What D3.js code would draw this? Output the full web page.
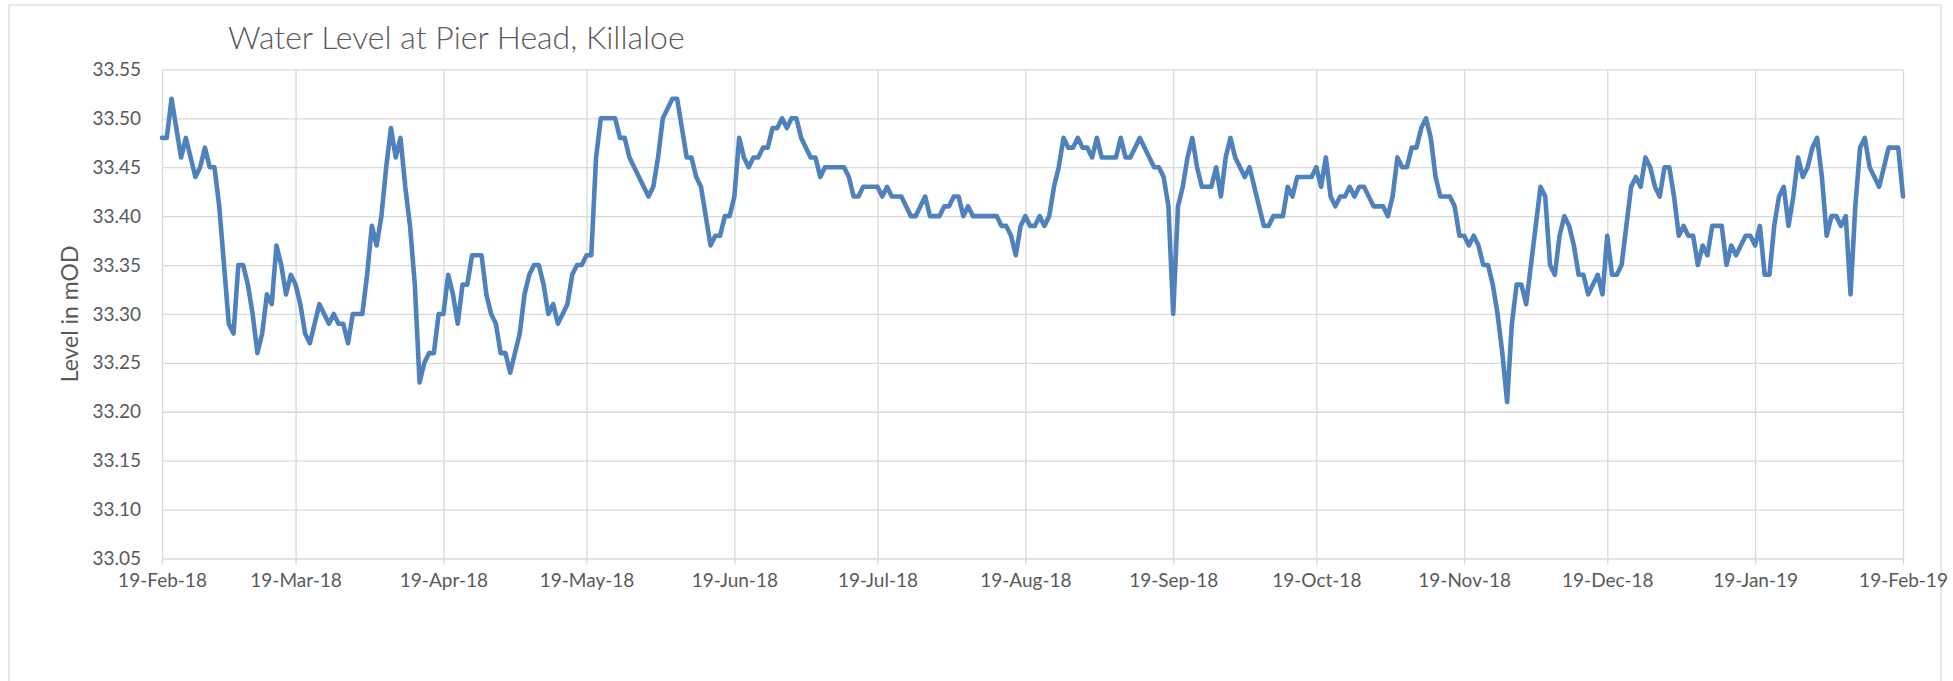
<!DOCTYPE html>
<html>
<head>
<meta charset="utf-8">
<title>Water Level at Pier Head, Killaloe</title>
<script src="https://cdn.jsdelivr.net/npm/d3@7"></script>
<style>
	body { margin: 0; background: #fff; }
	text { font-family: Lato, "Liberation Sans", sans-serif; fill: #595959; }
	.grid line { stroke: #d9d9d9; stroke-width: 1.3; }
	.grid .domain { display: none; }
	.axis .domain { display: none; }
	.axis line { stroke: #d9d9d9; stroke-width: 1.3; }
	.axis text { font-size: 19px; }
	.level-line { fill: none; stroke: #4f81bd; stroke-width: 4.6; stroke-linejoin: round; stroke-linecap: round; }
</style>
</head>
<body>
<svg id="water-level" width="1953" height="681"></svg>
<script>
"use strict";

// Daily readings (mOD) starting on this date. null = no reading that day, the line just joins across.
var startDate = "2018-02-19";
var levels = [
	33.48, 33.48, 33.52, 33.49, 33.46, 33.48, 33.46, 33.44, 33.45, 33.47, // 19 Feb
	33.45, 33.45, 33.41, 33.35, 33.29, 33.28, 33.35, 33.35, 33.33, 33.30,
	33.26, 33.28, 33.32, 33.31, 33.37, 33.35, 33.32, 33.34, 33.33, 33.31, // 19 Mar ish
	33.28, 33.27, 33.29, 33.31, 33.30, 33.29, 33.30, 33.29, 33.29, 33.27,
	33.30, 33.30, 33.30, 33.34, 33.39, 33.37, 33.40, 33.45, 33.49, 33.46,
	33.48, 33.43, 33.39, 33.33, 33.23, 33.25, 33.26, 33.26, 33.30, 33.30, // 19 Apr at the end
	33.34, 33.32, 33.29, 33.33, 33.33, 33.36, 33.36, 33.36, 33.32, 33.30,
	33.29, 33.26, 33.26, 33.24, 33.26, 33.28, 33.32, 33.34, 33.35, 33.35,
	33.33, 33.30, 33.31, 33.29, 33.30, 33.31, 33.34, 33.35, 33.35, 33.36, // 19 May at the end
	33.36, 33.46, 33.50, 33.50, 33.50, 33.50, 33.48, 33.48, 33.46, null,
	null, null, 33.42, 33.43, 33.46, 33.50, 33.51, 33.52, 33.52, 33.49,
	33.46, 33.46, 33.44, 33.43, 33.40, 33.37, 33.38, 33.38, 33.40, 33.40,
	33.42, 33.48, 33.46, 33.45, 33.46, 33.46, 33.47, 33.47, 33.49, 33.49, // 19 Jun first
	33.50, 33.49, 33.50, 33.50, 33.48, 33.47, 33.46, 33.46, 33.44, 33.45,
	33.45, 33.45, 33.45, 33.45, 33.44, 33.42, 33.42, 33.43, 33.43, 33.43,
	33.43, 33.42, 33.43, 33.42, 33.42, 33.42, 33.41, 33.40, 33.40, 33.41, // 19 Jul first
	33.42, 33.40, 33.40, 33.40, 33.41, 33.41, 33.42, 33.42, 33.40, 33.41,
	33.40, 33.40, 33.40, 33.40, 33.40, 33.40, 33.39, 33.39, 33.38, 33.36,
	33.39, 33.40, 33.39, 33.39, 33.40, 33.39, 33.40, 33.43, 33.45, 33.48, // 19 Aug second
	33.47, 33.47, 33.48, 33.47, 33.47, 33.46, 33.48, 33.46, 33.46, 33.46,
	33.46, 33.48, 33.46, 33.46, 33.47, 33.48, 33.47, 33.46, 33.45, 33.45,
	33.44, 33.41, 33.30, 33.41, 33.43, 33.46, 33.48, 33.45, 33.43, 33.43, // 19 Sep third
	33.43, 33.45, 33.42, 33.46, 33.48, 33.46, 33.45, 33.44, 33.45, 33.43,
	33.41, 33.39, 33.39, 33.40, 33.40, 33.40, 33.43, 33.42, 33.44, 33.44,
	33.44, 33.44, 33.45, 33.43, 33.46, 33.42, 33.41, 33.42, 33.42, 33.43, // 19 Oct third
	33.42, 33.43, 33.43, 33.42, 33.41, 33.41, 33.41, 33.40, 33.42, 33.46,
	33.45, 33.45, 33.47, 33.47, 33.49, 33.50, 33.48, 33.44, 33.42, 33.42,
	33.42, 33.41, 33.38, 33.38, 33.37, 33.38, 33.37, 33.35, 33.35, 33.33, // 19 Nov fourth
	33.30, 33.26, 33.21, 33.29, 33.33, 33.33, 33.31, 33.35, 33.39, 33.43,
	33.42, 33.35, 33.34, 33.38, 33.40, 33.39, 33.37, 33.34, 33.34, 33.32,
	33.33, 33.34, 33.32, 33.38, 33.34, 33.34, 33.35, 33.39, 33.43, 33.44, // 19 Dec fourth
	33.43, 33.46, 33.45, 33.43, 33.42, 33.45, 33.45, 33.42, 33.38, 33.39,
	33.38, 33.38, 33.35, 33.37, 33.36, 33.39, 33.39, 33.39, 33.35, 33.37,
	33.36, 33.37, 33.38, 33.38, 33.37, 33.39, 33.34, 33.34, 33.39, 33.42, // 19 Jan fifth
	33.43, 33.39, 33.42, 33.46, 33.44, 33.45, 33.47, 33.48, 33.44, 33.38,
	33.40, 33.40, 33.39, 33.40, 33.32, 33.41, 33.47, 33.48, 33.45, 33.44,
	33.43, 33.45, 33.47, 33.47, 33.47, 33.42 // 19 Feb 2019 last
];

var tickDates = [
	"2018-02-19", "2018-03-19", "2018-04-19", "2018-05-19", "2018-06-19", "2018-07-19", "2018-08-19",
	"2018-09-19", "2018-10-19", "2018-11-19", "2018-12-19", "2019-01-19", "2019-02-19"
];
var levelTicks = [33.05, 33.10, 33.15, 33.20, 33.25, 33.30, 33.35, 33.40, 33.45, 33.50, 33.55];

var chartTitle = "Water Level at Pier Head, Killaloe";
var yTitle = "Level in mOD";

var parseDate = d3.timeParse("%Y-%m-%d");
var formatTick = d3.timeFormat("%-d-%b-%y");

function drawChart() {
	var svg = d3.select("#water-level");
	var plot = {left: 162, right: 1903, top: 69.4, bottom: 558.5};

	var start = parseDate(startDate);
	var data = levels.map(function(v, i) {
		return {date: d3.timeDay.offset(start, i), level: v};
	}).filter(function(d) { return d.level !== null; });

	var ticks = tickDates.map(parseDate);

	var x = d3.scaleTime()
		.domain([ticks[0], ticks[ticks.length - 1]])
		.range([plot.left, plot.right]);
	var y = d3.scaleLinear()
		.domain([levelTicks[0], levelTicks[levelTicks.length - 1]])
		.range([plot.bottom, plot.top]);

	// Chart area border, bottom edge runs off the picture
	svg.append("rect")
		.attr("x", 9)
		.attr("y", 5)
		.attr("width", 1932)
		.attr("height", 720)
		.attr("fill", "#fff")
		.attr("stroke", "#d9d9d9")
		.attr("stroke-width", 1.3);

	// Vertical grid lines, one per month tick
	svg.append("g")
		.attr("class", "grid")
		.attr("transform", "translate(0," + plot.bottom + ")")
		.call(d3.axisBottom(x)
			.tickValues(ticks)
			.tickSize(-(plot.bottom - plot.top))
			.tickFormat(""));

	// Horizontal grid lines plus the level labels
	svg.append("g")
		.attr("class", "axis axis-y")
		.attr("transform", "translate(" + plot.left + ",0)")
		.call(d3.axisLeft(y)
			.tickValues(levelTicks)
			.tickSize(-(plot.right - plot.left))
			.tickPadding(21)
			.tickFormat(d3.format(".2f")));

	// Date labels with the short outside tick marks
	svg.append("g")
		.attr("class", "axis axis-x")
		.attr("transform", "translate(0," + plot.bottom + ")")
		.call(d3.axisBottom(x)
			.tickValues(ticks)
			.tickSize(6)
			.tickPadding(9)
			.tickFormat(formatTick));

	var levelLine = d3.line()
		.x(function(d) { return x(d.date); })
		.y(function(d) { return y(d.level); });

	svg.append("path")
		.datum(data)
		.attr("class", "level-line")
		.attr("d", levelLine);

	svg.append("text")
		.attr("x", 228)
		.attr("y", 49)
		.style("font-size", "32px")
		.style("font-weight", 300)
		.text(chartTitle);

	svg.append("text")
		.attr("transform", "translate(78," + ((plot.top + plot.bottom) / 2) + ") rotate(-90)")
		.attr("text-anchor", "middle")
		.style("font-size", "23px")
		.text(yTitle);
}

drawChart();
</script>
</body>
</html>
